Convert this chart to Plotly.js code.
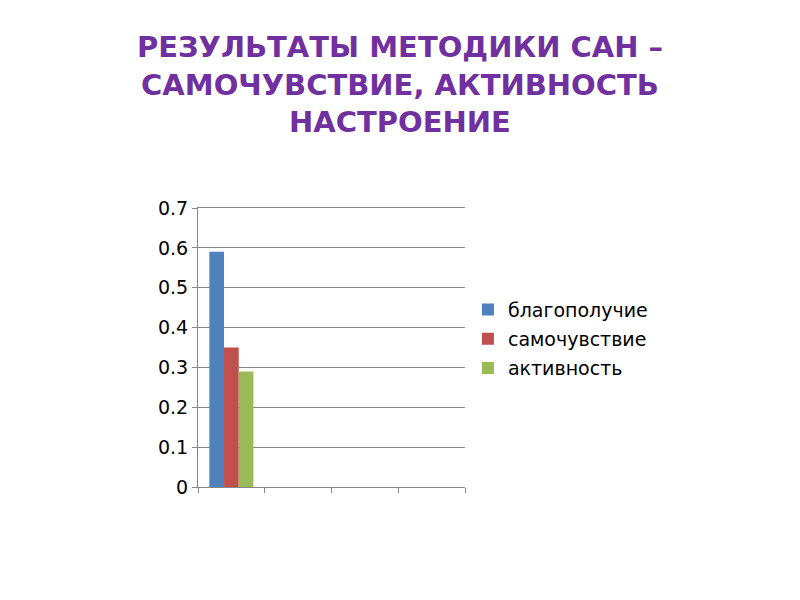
<!DOCTYPE html>
<html>
<head>
<meta charset="utf-8">
<script src="https://cdn.plot.ly/plotly-3.0.1.min.js"></script>
<style>
  html, body { margin: 0; padding: 0; background: #fff; }
  #plot { width: 800px; height: 600px; }
</style>
</head>
<body>
<div id="plot"></div>
<script>
var categories = ['1', '2', '3', '4'];
var seriesNames = ['благополучие', 'самочувствие', 'активность'];
var blagopoluchie = [0.59, null, null, null];
var samochuvstvie = [0.35, null, null, null];
var aktivnost = [0.29, null, null, null];
var colors = ['#4F81BD', '#C0504D', '#9BBB59'];

function create_plot() {
  var values = [blagopoluchie, samochuvstvie, aktivnost];
  var data = values.map(function (v, i) {
    return {
      x: categories,
      y: v,
      type: 'bar',
      name: seriesNames[i],
      legendgroup: 'g' + i,
      marker: { color: colors[i] }
    };
  });

  var layout = {
    width: 800,
    height: 600,
    margin: { l: 198, r: 335, t: 208, b: 113 },
    paper_bgcolor: '#ffffff',
    plot_bgcolor: '#ffffff',
    font: { family: 'DejaVu Sans', size: 16, color: '#000000' },
    barmode: 'group',
    bargap: 0.34,
    bargroupgap: 0,
    title: {
      text: 'РЕЗУЛЬТАТЫ МЕТОДИКИ САН –<br>САМОЧУВСТВИЕ, АКТИВНОСТЬ<br>НАСТРОЕНИЕ',
      font: { family: 'DejaVu Sans', size: 29, color: '#7030A0', weight: 'bold' },
      xref: 'container',
      x: 0.5,
      xanchor: 'center',
      yref: 'container',
      y: 1 - 57 / 600,
      yanchor: 'top'
    },
    xaxis: {
      type: 'category',
      showticklabels: false,
      showgrid: false,
      showline: true,
      mirror: true,
      linecolor: '#868686',
      linewidth: 1,
      ticks: 'outside',
      tickson: 'boundaries',
      ticklen: 5,
      tickcolor: '#868686',
      zeroline: false
    },
    yaxis: {
      range: [0, 0.7],
      dtick: 0.1,
      showline: true,
      linecolor: '#868686',
      ticks: 'outside',
      ticklen: 5,
      tickcolor: '#868686',
      gridcolor: '#868686',
      gridwidth: 1,
      zeroline: false,
      tickfont: { size: 19 }
    },
    showlegend: true,
    legend: {
      x: 1.011,
      xanchor: 'left',
      y: 0.53,
      yanchor: 'middle',
      itemwidth: 30,
      tracegroupgap: 1.5,
      font: { size: 19 },
      bgcolor: 'rgba(0,0,0,0)'
    }
  };

  Plotly.newPlot('plot', data, layout, { staticPlot: true });
}

create_plot();
</script>
</body>
</html>
